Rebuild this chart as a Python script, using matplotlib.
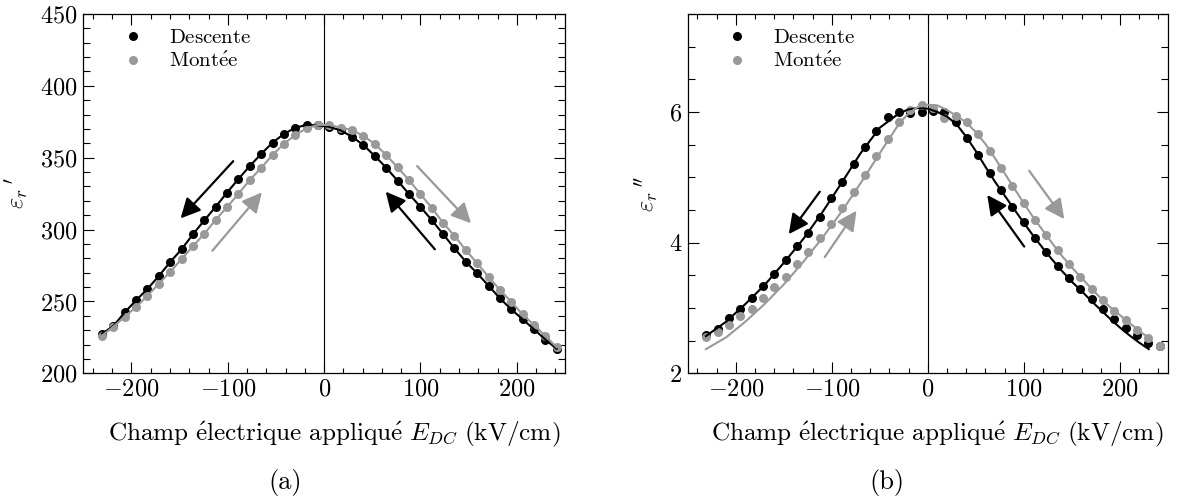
import matplotlib
matplotlib.use("Agg")
import matplotlib.pyplot as plt
from matplotlib.ticker import MultipleLocator

plt.rcParams.update({
    "font.family": "serif",
    "font.serif": ["cmr10"],
    "mathtext.fontset": "cm",
    "axes.formatter.use_mathtext": True,
    "axes.unicode_minus": True,
})

# ---------------- data ----------------
E_field = [-230.6, -218.8, -207.0, -195.2, -183.4, -171.6, -159.8, -148.0, -136.2,
           -124.4, -112.6, -100.8, -89.0, -77.2, -65.4, -53.6, -41.8, -30.0, -18.2,
           -6.4, 5.4, 17.2, 29.0, 40.8, 52.6, 64.4, 76.2, 88.0, 99.8, 111.6, 123.4,
           135.2, 147.0, 158.8, 170.6, 182.4, 194.2, 206.0, 217.8, 229.6, 241.4]

eps_real_descente = [227.5, 232.9, 242.4, 250.8, 258.7, 267.7, 277.4, 286.3, 296.7,
                     306.4, 315.9, 325.7, 335.2, 344.2, 352.6, 360.5, 366.5, 370.9,
                     372.8, 372.5, 371.5, 369.0, 364.6, 358.8, 351.2, 343.1, 334.0,
                     324.8, 315.9, 306.7, 296.9, 287.0, 277.7, 269.6, 261.0, 252.2,
                     244.5, 237.6, 230.6, 223.5, 217.0]
eps_real_montee = [226.2, 232.4, 239.4, 246.1, 254.0, 262.4, 270.5, 279.5, 288.4,
                   297.1, 306.7, 315.7, 324.8, 334.5, 342.9, 351.9, 359.6, 365.8,
                   370.5, 372.8, 372.8, 370.9, 369.3, 365.1, 359.6, 351.9, 343.3,
                   334.5, 324.8, 315.2, 304.8, 295.7, 285.8, 276.5, 267.2, 258.0,
                   249.8, 241.0, 233.6, 226.0, 218.1]

eps_imag_descente = [2.58, 2.68, 2.84, 2.98, 3.15, 3.33, 3.52, 3.73, 3.95, 4.15, 4.40,
                     4.68, 4.93, 5.21, 5.47, 5.71, 5.92, 6.00, 5.99, 6.00, 6.02, 6.00,
                     5.84, 5.60, 5.34, 5.06, 4.81, 4.55, 4.31, 4.07, 3.85, 3.65, 3.46,
                     3.29, 3.13, 2.98, 2.83, 2.70, 2.59, 2.46, 2.42]
eps_imag_montee = [2.56, 2.63, 2.74, 2.87, 2.99, 3.15, 3.32, 3.48, 3.67, 3.86, 4.07,
                   4.29, 4.53, 4.78, 5.04, 5.32, 5.58, 5.84, 6.03, 6.11, 6.06, 5.91,
                   5.94, 5.85, 5.66, 5.40, 5.14, 4.86, 4.60, 4.35, 4.12, 3.88, 3.68,
                   3.48, 3.29, 3.12, 2.96, 2.82, 2.66, 2.54, 2.42]

# fitted curves for panel (b)
E_fit = [-231, -210, -190, -170, -150, -130, -110, -90, -70, -50, -30, -20, -10, 0,
         10, 20, 30, 40, 50, 60, 70, 80, 90, 100, 110, 120, 130, 140, 150, 160, 170,
         180, 190, 200, 210, 220, 230]
fit_imag_descente = [2.57, 2.79, 3.06, 3.35, 3.69, 4.05, 4.46, 4.91, 5.37, 5.76, 5.98,
                     6.04, 6.06, 6.05, 6.00, 5.93, 5.81, 5.62, 5.40, 5.16, 4.93, 4.72,
                     4.51, 4.30, 4.10, 3.91, 3.73, 3.56, 3.40, 3.26, 3.11, 2.97, 2.83,
                     2.70, 2.58, 2.47, 2.37]
fit_imag_montee = [2.37, 2.55, 2.79, 3.06, 3.36, 3.70, 4.07, 4.47, 4.91, 5.37, 5.82,
                   5.98, 6.08, 6.11, 6.10, 6.03, 5.94, 5.84, 5.69, 5.51, 5.29, 5.06,
                   4.83, 4.60, 4.38, 4.18, 3.98, 3.79, 3.62, 3.46, 3.30, 3.15, 3.01,
                   2.89, 2.77, 2.65, 2.54]

labels = [r"$\mathrm{Descente}$", r"$\mathrm{Mont\acute{e}e}$"]
xlabel = r"$\mathrm{Champ\ \acute{e}lectrique\ appliqu\acute{e}}\ E_{DC}\ \mathrm{(kV/cm)}$"

BLACK = "#000000"
GRAY = "#999999"
FS = 17.5

fig = plt.figure(figsize=(11.78, 5.03), dpi=100)
W, H = 1178, 503
axA = fig.add_axes([83.3 / W, 1 - 373.3 / H, 481.7 / W, 359.3 / H])
axB = fig.add_axes([687.7 / W, 1 - 373.3 / H, 480.3 / W, 359.3 / H])


def style(ax, ymaj, ymin):
    ax.xaxis.set_major_locator(MultipleLocator(100))
    ax.xaxis.set_minor_locator(MultipleLocator(20))
    ax.yaxis.set_major_locator(MultipleLocator(ymaj))
    ax.yaxis.set_minor_locator(MultipleLocator(ymin))
    ax.tick_params(which="both", direction="in", top=True, right=True,
                   labelsize=FS, width=0.8)
    ax.tick_params(axis="both", which="major", length=7.7)
    ax.tick_params(axis="x", which="minor", length=3.6)
    ax.tick_params(axis="y", which="minor", length=5.3)
    ax.tick_params(axis="x", pad=4)
    ax.tick_params(axis="y", pad=4)
    for s in ax.spines.values():
        s.set_linewidth(0.9)
    ax.axvline(0, color="black", lw=0.8, zorder=1)
    ax.set_xlim(-250, 250)
    ax.set_xlabel(xlabel, fontsize=18.2)
    ax.xaxis.set_label_coords(0.52, -0.13)


def arrow(ax, tail, head, color):
    ax.annotate("", xy=head, xytext=tail,
                arrowprops=dict(arrowstyle="-|>,head_length=0.6,head_width=0.3",
                                color=color, lw=1.6, shrinkA=0, shrinkB=0,
                                mutation_scale=20))


ms = 6.5
# ---- panel (a)
axA.plot(E_field, eps_real_descente, "o", color=BLACK, ms=ms, mew=0, label=labels[0], zorder=3)
axA.plot(E_field, eps_real_montee, "o", color=GRAY, ms=ms, mew=0, label=labels[1], zorder=3)
axA.plot(E_field, eps_real_descente, "-", color=BLACK, lw=1.5, zorder=3)
axA.plot(E_field, eps_real_montee, "-", color=GRAY, lw=1.5, zorder=3)
axA.set_ylim(200, 450)
style(axA, 50, 10)
axA.set_ylabel(r"$\varepsilon_r\,{}^{\prime}$", fontsize=FS)
axA.yaxis.set_label_coords(-0.111, 0.5)
arrow(axA, (-94.4, 347.6), (-149.0, 307.8), BLACK)
arrow(axA, (-116.0, 285.3), (-64.6, 325.9), GRAY)
arrow(axA, (114.9, 286.3), (63.9, 326.4), BLACK)
arrow(axA, (96.5, 344.2), (152.4, 304.4), GRAY)

# ---- panel (b)
axB.plot(E_field, eps_imag_descente, "o", color=BLACK, ms=ms, mew=0, label=labels[0], zorder=3)
axB.plot(E_field, eps_imag_montee, "o", color=GRAY, ms=ms, mew=0, label=labels[1], zorder=3)
axB.plot(E_fit, fit_imag_descente, "-", color=BLACK, lw=1.5, zorder=3)
axB.plot(E_fit, fit_imag_montee, "-", color=GRAY, lw=1.5, zorder=3)
axB.set_ylim(2, 7.5)
style(axB, 2, 0.5)
axB.set_ylabel(r"$\varepsilon_r\,{}^{\prime\prime}$", fontsize=FS)
axB.yaxis.set_label_coords(-0.058, 0.5)
arrow(axB, (-112.5, 4.78), (-144.8, 4.13), BLACK)
arrow(axB, (-107.3, 3.78), (-74.3, 4.49), GRAY)
arrow(axB, (105.5, 5.10), (142.0, 4.36), GRAY)
arrow(axB, (100.3, 3.94), (61.8, 4.73), BLACK)

for ax in (axA, axB):
    ax.legend(loc="upper left", bbox_to_anchor=(0.0594, 0.9585), frameon=False,
              fontsize=15, handlelength=2.0, handletextpad=0.73,
              labelspacing=0.22, borderpad=0, borderaxespad=0, numpoints=1,
              markerscale=1.0)

fig.text(285 / W, 1 - 482 / H, "(a)", ha="center", va="center", fontsize=19)
fig.text(886.7 / W, 1 - 482 / H, "(b)", ha="center", va="center", fontsize=19)

fig.savefig("out.png", dpi=100)
